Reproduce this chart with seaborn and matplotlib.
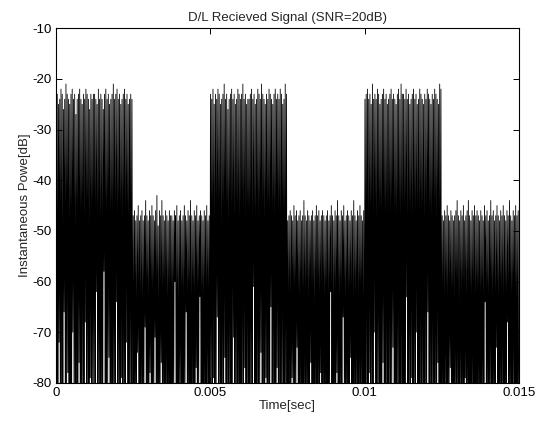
import numpy as np
import seaborn as sns
import matplotlib.pyplot as plt

# received power samples (dB), one list per 2.5 ms segment: burst / idle alternating
burst1_db = [-24, -88, -23, -95, -25, -72, -24, -90, -22, -84, -23, -100, -26, -66, -24, -92,
             -21, -85, -23, -78, -24, -97, -25, -89, -23, -93, -22, -70, -24, -86, -23, -99,
             -27, -83, -24, -91, -23, -76, -22, -94, -24, -87, -25, -82, -23, -96, -24, -68,
             -22, -90, -23, -85, -24, -98, -26, -79, -23, -92, -24, -88, -23, -84,
             -23, -91, -24, -62, -25, -94, -22, -87, -24, -99, -23, -81, -24, -93, -26, -58,
             -23, -89, -22, -96, -24, -84, -23, -75, -25, -92, -24, -88, -23, -97, -21, -83,
             -24, -90, -23, -64, -22, -95, -24, -86, -23, -91, -25, -79, -24, -98, -23, -85,
             -22, -93, -24, -72, -23, -88, -25, -96, -24, -82, -23, -90, -24, -87]
idle1_db = [-47, -90, -46, -85, -48, -97, -47, -74, -45, -88, -48, -93, -47, -82, -46, -99,
            -48, -87, -47, -69, -44, -91, -47, -84, -48, -96, -46, -78, -47, -89, -45, -94,
            -47, -86, -48, -71, -46, -92, -43, -83, -49, -98, -46, -88, -47, -76, -44, -95,
            -47, -85, -48, -90, -46, -81, -47, -97, -48, -87, -46, -93, -47, -89,
            -47, -93, -48, -86, -46, -60, -47, -95, -45, -89, -48, -98, -47, -80, -46, -92,
            -48, -87, -47, -97, -45, -84, -47, -66, -48, -94, -46, -88, -47, -91, -44, -99,
            -47, -83, -48, -90, -46, -96, -47, -77, -45, -92, -48, -86, -47, -63, -46, -95,
            -47, -89, -48, -97, -46, -85, -47, -93, -45, -81, -48, -90, -47, -96]
burst2_db = [-23, -86, -24, -92, -22, -79, -25, -95, -23, -88, -24, -67, -22, -91, -23, -84,
             -25, -99, -24, -87, -23, -93, -21, -75, -24, -90, -23, -85, -26, -97, -24, -82,
             -23, -94, -22, -88, -24, -71, -23, -96, -25, -86, -24, -91, -22, -80, -23, -98,
             -24, -89, -23, -84, -21, -93, -24, -77, -23, -95, -25, -87, -24, -90,
             -24, -93, -23, -86, -22, -97, -24, -61, -23, -89, -25, -94, -24, -83, -22, -99,
             -23, -88, -24, -74, -21, -92, -23, -85, -24, -96, -25, -79, -23, -90, -24, -87,
             -22, -95, -23, -65, -24, -91, -25, -84, -23, -98, -22, -89, -24, -77, -23, -93,
             -24, -86, -22, -97, -23, -82, -25, -90, -24, -95, -21, -88, -23, -92]
idle2_db = [-48, -92, -47, -84, -46, -96, -47, -79, -48, -88, -45, -94, -47, -86, -46, -73,
            -48, -91, -47, -98, -46, -83, -48, -89, -47, -95, -44, -80, -47, -90, -48, -87,
            -46, -97, -47, -85, -48, -76, -47, -93, -46, -88, -48, -99, -47, -82, -45, -91,
            -47, -86, -46, -94, -48, -78, -47, -90, -46, -85, -47, -96, -48, -88,
            -47, -89, -46, -95, -48, -83, -47, -62, -45, -91, -47, -98, -48, -86, -46, -93,
            -47, -78, -44, -90, -47, -96, -48, -85, -46, -92, -47, -67, -45, -88, -48, -97,
            -47, -84, -46, -94, -47, -89, -48, -75, -46, -91, -47, -99, -44, -87, -47, -93,
            -48, -82, -46, -96, -47, -88, -45, -91, -47, -85, -48, -97, -46, -90]
burst3_db = [-24, -90, -23, -85, -22, -97, -24, -78, -23, -92, -25, -88, -21, -95, -24, -70,
             -23, -86, -24, -99, -22, -83, -23, -91, -25, -87, -24, -94, -23, -76, -22, -89,
             -24, -96, -23, -84, -25, -92, -24, -81, -23, -98, -22, -87, -24, -73, -23, -93,
             -24, -88, -25, -95, -23, -85, -22, -90, -24, -97, -21, -86, -23, -92,
             -23, -92, -24, -85, -22, -63, -24, -96, -23, -88, -25, -91, -24, -79, -23, -98,
             -22, -86, -24, -93, -23, -70, -25, -89, -24, -95, -22, -84, -23, -92, -24, -87,
             -25, -97, -23, -81, -24, -90, -22, -66, -23, -94, -24, -88, -25, -96, -23, -83,
             -24, -91, -22, -87, -23, -98, -24, -76, -25, -93, -21, -89, -22, -95]
idle3_db = [-47, -88, -48, -95, -46, -83, -47, -91, -45, -98, -47, -86, -48, -77, -46, -93,
            -47, -89, -48, -96, -47, -84, -46, -90, -44, -87, -47, -99, -48, -81, -46, -94,
            -47, -88, -45, -92, -48, -79, -47, -97, -46, -85, -44, -91, -47, -89, -48, -95,
            -46, -83, -47, -90, -45, -98, -47, -86, -46, -92, -47, -88, -48, -94,
            -46, -91, -47, -86, -48, -97, -45, -64, -47, -92, -46, -88, -48, -95, -47, -82,
            -44, -90, -47, -98, -46, -85, -48, -93, -47, -73, -45, -89, -47, -96, -48, -87,
            -46, -92, -47, -80, -45, -97, -47, -88, -48, -94, -46, -68, -47, -91, -44, -86,
            -47, -95, -48, -89, -46, -83, -47, -92, -45, -98, -47, -87, -46, -93]

t_end = 0.015
x_ticks = [0, 0.005, 0.01, 0.015]
x_labels = ['0', '0.005', '0.01', '0.015']
y_ticks = [-80, -70, -60, -50, -40, -30, -20, -10]

signal = np.concatenate([burst1_db, idle1_db, burst2_db, idle2_db, burst3_db, idle3_db])
t = np.linspace(0, t_end, len(signal))

sns.set_style("ticks")
plt.rcParams['font.family'] = ['Liberation Sans', 'DejaVu Sans']
plt.rcParams['axes.unicode_minus'] = False

fig = plt.figure(figsize=(5.49, 4.23), dpi=100)
ax = fig.add_axes([0.102, 0.095, 0.843, 0.838])
sns.lineplot(x=t, y=signal, color='black', linewidth=0.6, estimator=None, sort=False, ax=ax)

ax.set_xlim(0, t_end)
ax.set_ylim(-80, -10)
ax.set_xticks(x_ticks)
ax.set_xticklabels(x_labels)
ax.set_yticks(y_ticks)
ax.tick_params(direction='in', top=True, right=True, labelsize=9.5, length=4, width=0.7,
               colors='black', pad=3)
for s in ax.spines.values():
    s.set_visible(True)
    s.set_color('black')
    s.set_linewidth(0.8)

ax.set_title('D/L Recieved Signal (SNR=20dB)', fontsize=9.5, pad=5)
ax.set_xlabel('Time[sec]', fontsize=9.5, labelpad=1)
ax.set_ylabel('Instantaneous Powe[dB]', fontsize=9.5, labelpad=1)

fig.savefig('out.png', dpi=100)
